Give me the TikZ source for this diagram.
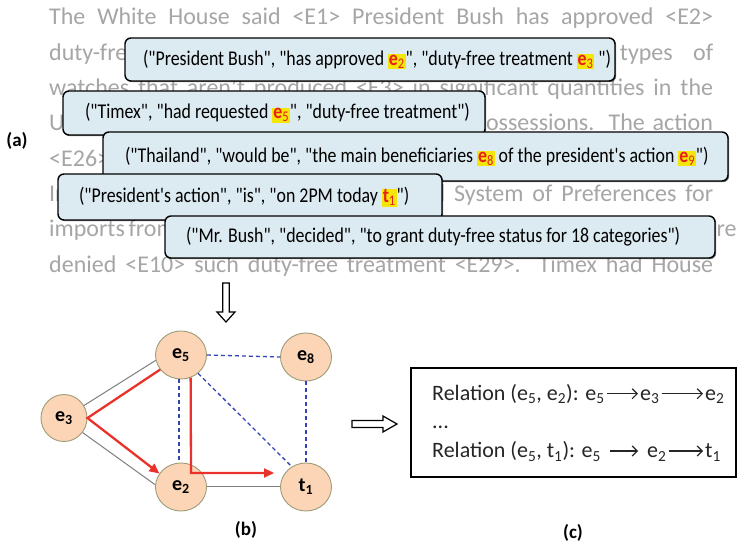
\documentclass[tikz,border=0pt]{standalone}
\usepackage{fontspec}
\setmainfont{Carlito}
\newfontfamily\boxfont{Carlito}[FakeStretch=0.85]
\usetikzlibrary{arrows.meta,shapes.geometric,shadows,calc}
\definecolor{bggray}{HTML}{A6A6A6}
\definecolor{boxfill}{HTML}{DCEAF1}
\definecolor{nodefill}{HTML}{FBD5B5}
\definecolor{nodeborder}{HTML}{9C9C78}
\definecolor{hly}{HTML}{F5E60A}
\definecolor{hlr}{HTML}{E8201A}
\definecolor{redarr}{HTML}{E8322A}
\definecolor{bluedash}{HTML}{3345B5}
\definecolor{edgegray}{HTML}{7F7F7F}
\definecolor{reltext}{HTML}{262626}
\newcommand{\hlent}[2]{{\setlength{\fboxsep}{0.8pt}\colorbox{hly}{\textcolor{hlr}{\textbf{#1}\textsubscript{#2}}}}}
\newcommand{\bgline}[1]{\makebox[664pt][s]{#1}}
\begin{document}
\begin{tikzpicture}[x=1pt,y=-1pt,
  bgtext/.style={anchor=base west, inner sep=0pt, text=bggray, font=\fontsize{24}{24}\selectfont},
  tuplebox/.style={draw=black, line width=1.4pt, rounded corners=6pt, fill=boxfill,
     drop shadow={shadow xshift=1.2pt, shadow yshift=-1.2pt, opacity=0.5, fill=black},
     inner ysep=0pt, font=\boxfont\fontsize{21}{21}\selectfont},
  ent/.style={ellipse, draw=nodeborder, line width=0.9pt, fill=nodefill, minimum width=51pt,
     minimum height=48pt, inner sep=0pt, font=\fontsize{20}{20}\selectfont\bfseries},
  plainedge/.style={draw=edgegray, line width=1pt},
  dashedge/.style={draw=bluedash, line width=1.3pt, dash pattern=on 4pt off 3pt},
  redpath/.style={draw=redarr, line width=2.3pt, -{Triangle[length=10pt,width=9pt]}},
  hollow/.style={draw=black, line width=1.2pt, fill=white},
  reltxt/.style={anchor=base west, inner sep=0pt, text=reltext, font=\fontsize{22}{22}\selectfont},
  relarrow/.style={draw=reltext, line width=1.2pt, -{Straight Barb[length=5pt,width=10pt]}},
  lbl/.style={font=\fontsize{19}{19}\selectfont\bfseries, inner sep=0pt}
]
\useasboundingbox (0,0) rectangle (740,545);
\fill[white] (0,0) rectangle (740,545);

% background paragraph
\node[bgtext] (l1) at (49,25.0) {\bgline{The White House said <E1> President Bush has approved <E2>}};
\node[bgtext] (l2) at (49,60.3) {\bgline{duty-free treatment <E4> for imports of certain types of}};
\node[bgtext] (l3) at (49,95.6) {\bgline{watches that aren't produced <E3> in significant quantities in the}};
\node[bgtext] (l4) at (49,130.9) {\bgline{U.S., the Virgin Islands and the other U.S. possessions. The action}};
\node[bgtext] (l5) at (49,166.2) {\bgline{<E26> came in response to a petition filed by Timex Inc. for}};
\node[bgtext] (l6) at (49,201.5) {\bgline{In relation to the new U.S. Generalized System of Preferences for}};
\node[bgtext] (l7) at (49,236.8) {\bgline{imports from developing nations <E28>. Previously, watch imports were}};
\node[bgtext] (l8) at (49,272.1) {\bgline{denied <E10> such duty-free treatment <E29>. Timex had House}};

% tuple boxes
\node[tuplebox, inner xsep=18pt, minimum height=43pt] (b1) at (370,59.5)
  {\makebox[454pt][l]{("President Bush", "has approved \hlent{e}{2}", "duty-free treatment \hlent{e}{3} ")}};
\node[tuplebox, inner xsep=22pt, minimum height=44pt] (b2) at (274,113)
  {\makebox[378pt][l]{("Timex", "had requested \hlent{e}{5}", "duty-free treatment")}};
\node[tuplebox, inner xsep=22pt, minimum height=49pt] (b3) at (415.5,156.5)
  {\makebox[581pt][l]{("Thailand", "would be", "the main beneficiaries \hlent{e}{8} of the president's action \hlent{e}{9}")}};
\node[tuplebox, inner xsep=21pt, minimum height=46pt] (b4) at (250,197)
  {\makebox[342pt][l]{("President's action", "is", "on 2PM today \hlent{t}{1}")}};
\node[tuplebox, inner xsep=21pt, minimum height=42pt] (b5) at (440,237)
  {\makebox[508pt][l]{("Mr. Bush", "decided", "to grant duty-free status for 18 categories")}};

\node[lbl] (la) at (17,141) {(a)};

% down hollow arrow
\draw[hollow] (222.7,283) -- (229.3,283) -- (229.3,312) -- (235,312) -- (226,322) -- (217,312) -- (222.7,312) -- cycle;

% graph
\node[ent] (e5) at (181,355) {e\textsubscript{5}};
\node[ent] (e8) at (306,357) {e\textsubscript{8}};
\node[ent, minimum width=46pt, minimum height=47pt] (e3) at (64,418) {e\textsubscript{3}};
\node[ent] (e2) at (181,487) {e\textsubscript{2}};
\node[ent] (t1) at (306,487) {t\textsubscript{1}};

\draw[plainedge] (e5.192) -- (e3.32);
\draw[plainedge] (e3.322) -- (e2.175);
\draw[plainedge] (e2.east) -- (t1.west);

\draw[dashedge] (e5.east) -- (e8.west);
\draw[dashedge] (e5.265) -- (e2.95);
\draw[dashedge] (e5.313) -- (t1.125);
\draw[dashedge] (e8.south) -- (t1.north);

\coordinate (bend) at (191,473);
\coordinate (redend) at (274,473);
\draw[redpath] (e5.215) -- (e3.east) -- (e2.148);
\draw[redpath] (e5.293) -- (bend) -- (redend);

\node[lbl] (lb) at (246,530) {(b)};

% right hollow arrow
\draw[hollow] (352,420.5) -- (383,420.5) -- (383,416) -- (397,424) -- (383,432) -- (383,427.5) -- (352,427.5) -- cycle;

% relation box
\node[draw=black, line width=1.3pt, minimum width=325pt, minimum height=109pt, inner sep=0pt] (rel) at (573.5,422.5) {};
\node[reltxt] (r1a) at (432,400.7) {Relation (e\textsubscript{5}, e\textsubscript{2}): e\textsubscript{5}};
\node[reltxt] (r1b) at (640,400.7) {e\textsubscript{3}};
\node[reltxt] (r1c) at (705,400.7) {e\textsubscript{2}};
\node[reltxt] (dots) at (432,429) {...};
\node[reltxt] (r2a) at (432,458) {Relation (e\textsubscript{5}, t\textsubscript{1}): e\textsubscript{5}};
\node[reltxt] (r2b) at (647,458) {e\textsubscript{2}};
\node[reltxt] (r2c) at (705,458) {t\textsubscript{1}};
\draw[relarrow] ($(r1a.base east)+(2,-7)$) -- ($(r1b.base west)+(-2,-7)$);
\draw[relarrow] ($(r1b.base east)+(2,-7)$) -- ($(r1c.base west)+(-2,-7)$);
\draw[relarrow] ($(r2a.base east)+(9,-7)$) -- ($(r2b.base west)+(-9,-7)$);
\draw[relarrow] ($(r2b.base east)+(2,-7)$) -- ($(r2c.base west)+(-2,-7)$);

\node[lbl] (lc) at (573,533) {(c)};
\end{tikzpicture}
\end{document}
